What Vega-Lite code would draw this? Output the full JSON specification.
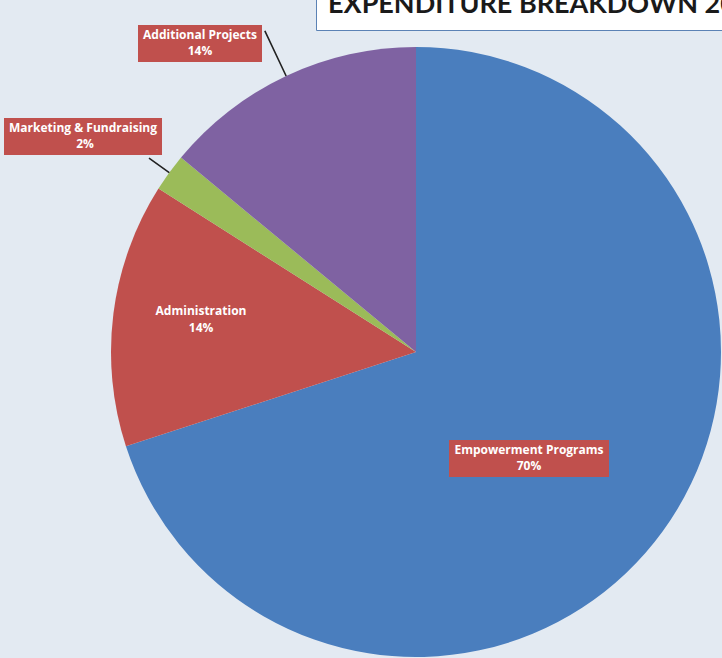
{
  "$schema": "https://vega.github.io/schema/vega-lite/v6.json",
  "width": 610,
  "height": 610,
  "autosize": {"type": "none"},
  "padding": {"left": 111, "top": 47, "right": 1, "bottom": 1},
  "background": "#e3eaf2",
  "config": {
    "view": {"stroke": null},
    "legend": {
      "orient": "none",
      "titleFont": "Open Sans",
      "titleFontWeight": "bold",
      "titleFontSize": 12,
      "titleColor": "#ffffff",
      "titleAlign": "center",
      "titleAnchor": "middle",
      "titleLimit": 1000,
      "titlePadding": 3,
      "fillColor": "#c0504d",
      "padding": 5,
      "symbolSize": 0,
      "symbolOpacity": 0,
      "symbolStrokeWidth": 0,
      "symbolOffset": 0,
      "labelFont": "Open Sans",
      "labelFontWeight": "bold",
      "labelFontSize": 12,
      "labelColor": "#ffffff",
      "labelAlign": "center",
      "labelOffset": 0,
      "rowPadding": 0
    }
  },
  "data": {
    "values": [
      {"category": "Empowerment Programs", "share": 0.70, "rank": 1},
      {"category": "Administration", "share": 0.14, "rank": 2},
      {"category": "Marketing & Fundraising", "share": 0.02, "rank": 3},
      {"category": "Additional Projects", "share": 0.14, "rank": 4}
    ]
  },
  "encoding": {
    "theta": {"field": "share", "type": "quantitative", "stack": true},
    "order": {"field": "rank", "type": "quantitative"}
  },
  "resolve": {"scale": {"opacity": "independent"}, "legend": {"opacity": "independent"}},
  "layer": [
    {
      "mark": {"type": "arc"},
      "encoding": {
        "color": {
          "field": "category",
          "type": "nominal",
          "scale": {
            "domain": ["Empowerment Programs", "Administration", "Marketing & Fundraising", "Additional Projects"],
            "range": ["#4a7ebe", "#c0504d", "#9bbb59", "#7f62a2"]
          },
          "legend": {
            "values": [],
            "title": "EXPENDITURE BREAKDOWN 2014",
            "legendX": 205,
            "legendY": -67,
            "fillColor": "#ffffff",
            "strokeColor": "#5b82b5",
            "padding": 12,
            "titleFontSize": 27,
            "titleFont": "Lato",
            "titleFontWeight": "bold",
            "titleColor": "#1a1a1a",
            "titleAlign": "left",
            "titleAnchor": "start",
            "titlePadding": 0
          }
        },
        "opacity": {
          "field": "share",
          "type": "ordinal",
          "scale": {"range": [1, 1]},
          "legend": {"values": [0.14], "title": "Additional Projects", "labelExpr": "format(datum.value, '.0%')", "labelOffset": 0, "legendX": 27, "legendY": -22}
        }
      }
    },
    {
      "mark": {"type": "arc", "radius": 355, "radius2": 305, "padAngle": 1.0, "fillOpacity": 0, "stroke": "#222222", "strokeWidth": 1.6},
      "encoding": {
        "strokeOpacity": {"condition": {"test": "datum.category === 'Additional Projects'", "value": 1}, "value": 0},
        "opacity": {
          "field": "share",
          "type": "ordinal",
          "scale": {"range": [1, 1]},
          "legend": {"values": [0.02], "title": "Marketing & Fundraising", "labelExpr": "format(datum.value, '.0%')", "labelOffset": 0, "legendX": -107, "legendY": 71}
        }
      }
    },
    {
      "mark": {"type": "arc", "radius": 330, "radius2": 305, "padAngle": 1.0, "fillOpacity": 0, "stroke": "#222222", "strokeWidth": 1.6},
      "encoding": {
        "strokeOpacity": {"condition": {"test": "datum.category === 'Marketing & Fundraising'", "value": 1}, "value": 0},
        "opacity": {
          "field": "share",
          "type": "ordinal",
          "scale": {"range": [1, 1]},
          "legend": {"values": [0.7], "title": "Empowerment Programs", "labelExpr": "format(datum.value, '.0%')", "labelOffset": 0, "legendX": 338, "legendY": 393}
        }
      }
    },
    {
      "mark": {"type": "text", "radius": 217.4, "thetaOffset": 0.024, "dy": -8.5, "font": "Open Sans", "fontWeight": "bold", "fontSize": 12, "fill": "#ffffff", "align": "center", "baseline": "middle"},
      "encoding": {"text": {"condition": {"test": "datum.category === 'Administration'", "field": "category", "type": "nominal"}, "value": ""}}
    },
    {
      "mark": {"type": "text", "radius": 217.4, "thetaOffset": 0.024, "dy": 8.5, "font": "Open Sans", "fontWeight": "bold", "fontSize": 12, "fill": "#ffffff", "align": "center", "baseline": "middle"},
      "encoding": {"text": {"condition": {"test": "datum.category === 'Administration'", "field": "share", "type": "quantitative", "format": ".0%"}, "value": ""}}
    }
  ]
}
